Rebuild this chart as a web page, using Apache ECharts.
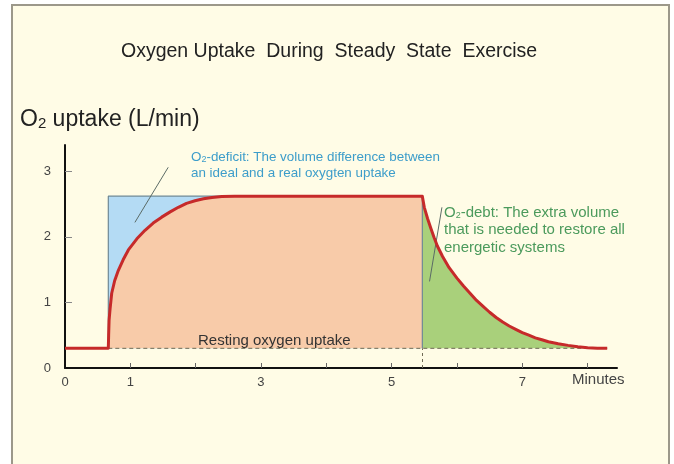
<!DOCTYPE html>
<html>
<head>
<meta charset="utf-8">
<script src="https://cdn.jsdelivr.net/npm/echarts@6/dist/echarts.min.js"></script>
<style>
  html, body { margin: 0; padding: 0; background: #ffffff; }
  #frame {
    position: absolute; left: 11px; top: 4px; width: 659px; height: 470px;
    background: #fffce6; border: 2px solid #9c988a; box-sizing: border-box;
  }
  #chart { position: absolute; left: 0; top: 0; width: 674px; height: 464px; }
</style>
</head>
<body>
<div id="frame"></div>
<div id="chart"></div>
<script>
// Resting level and the ideal (step) uptake during exercise, L/min
const restLevel = 0.3;
const steadyLevel = 2.62;
const exerciseStart = 0.663;
const exerciseEnd = 5.47;
const curveEnd = 8.3;

// Resting phase before exercise: [minutes, L/min]
const restPhase = [[0, 0.30], [0.663, 0.30]];

// Measured uptake rising at the onset of exercise
const risePhase = [
  [0.663, 0.30], [0.668, 0.50], [0.675, 0.73], [0.690, 0.90], [0.715, 1.14],
  [0.760, 1.33], [0.817, 1.49], [0.890, 1.65], [0.970, 1.80], [1.100, 1.97],
  [1.225, 2.10], [1.350, 2.21], [1.480, 2.30], [1.610, 2.38], [1.735, 2.45],
  [1.860, 2.51], [1.990, 2.55], [2.120, 2.58], [2.250, 2.60], [2.400, 2.613],
  [2.600, 2.62], [5.470, 2.62]
];

// Recovery after exercise stops
const recoveryPhase = [
  [5.47, 2.62], [5.50, 2.45], [5.55, 2.28], [5.60, 2.13], [5.65, 1.99],
  [5.70, 1.86], [5.78, 1.70], [5.88, 1.53], [6.00, 1.37], [6.10, 1.25],
  [6.20, 1.14], [6.30, 1.03], [6.40, 0.94], [6.50, 0.85], [6.60, 0.77],
  [6.70, 0.70], [6.80, 0.64], [6.90, 0.59], [7.00, 0.54], [7.10, 0.50],
  [7.20, 0.46], [7.30, 0.43], [7.40, 0.40], [7.55, 0.37], [7.70, 0.345],
  [7.85, 0.325], [8.00, 0.31], [8.15, 0.303], [8.30, 0.30]
];

// Axis ticks and labels
const xTicks = [1, 2, 3, 4, 5, 6, 7, 8];
const xLabels = [0, 1, 3, 5, 7];
const yTicks = [1, 2, 3];
const yLabels = [0, 1, 2, 3];

// Annotation pointers in data coordinates
const deficitPointer = [[1.58, 3.06], [1.07, 2.22]];
const debtPointer = [[5.77, 2.45], [5.58, 1.32]];

const idealStep = [
  [exerciseStart, restLevel], [exerciseStart, steadyLevel],
  [exerciseEnd, steadyLevel], [exerciseEnd, restLevel]
];
const fullCurve = restPhase.concat(risePhase.slice(1), recoveryPhase.slice(1));

const RED = '#c62a2a';
const FONT = '"Liberation Sans", Arial, sans-serif';

const chart = echarts.init(document.getElementById('chart'), null, { renderer: 'canvas' });

chart.setOption({
  backgroundColor: 'transparent',
  animation: false,
  textStyle: { fontFamily: FONT },
  grid: { left: 65, right: 57, top: 145, bottom: 96 },
  xAxis: {
    type: 'value', min: 0, max: 8.45,
    axisLine: { lineStyle: { color: '#111', width: 2 } },
    axisTick: { inside: true, length: 5, customValues: xTicks, lineStyle: { color: '#666' } },
    axisLabel: { customValues: xLabels, color: '#444', fontSize: 13, margin: 8, fontFamily: FONT },
    splitLine: { show: false }
  },
  yAxis: {
    type: 'value', min: 0, max: 3.4,
    axisLine: { show: true, lineStyle: { color: '#111', width: 2 } },
    axisTick: { show: true, inside: true, length: 7, customValues: yTicks, lineStyle: { color: '#888' } },
    axisLabel: { customValues: yLabels, color: '#444', fontSize: 13, margin: 14, fontFamily: FONT },
    splitLine: { show: false }
  },
  series: [
    {
      name: 'ideal uptake fill', type: 'line', data: idealStep, showSymbol: false, z: 1,
      lineStyle: { width: 0, opacity: 0 },
      areaStyle: { color: '#b4dbf4', opacity: 1, origin: restLevel }
    },
    {
      name: 'exercise fill', type: 'line', data: risePhase, showSymbol: false, z: 2,
      lineStyle: { width: 0, opacity: 0 },
      areaStyle: { color: '#f8cba9', opacity: 1, origin: restLevel }
    },
    {
      name: 'recovery fill', type: 'line', data: recoveryPhase, showSymbol: false, z: 2,
      lineStyle: { width: 0, opacity: 0 },
      areaStyle: { color: '#a9d07b', opacity: 1, origin: restLevel }
    },
    {
      name: 'ideal uptake edge', type: 'line', data: idealStep, showSymbol: false, z: 3,
      lineStyle: { color: '#6e8896', width: 1.2 }
    },
    {
      name: 'resting baseline', type: 'line', z: 3, showSymbol: false,
      data: [[exerciseStart, restLevel], [curveEnd, restLevel]],
      lineStyle: { color: '#6f6a55', width: 1, type: [4, 3] },
      markLine: {
        silent: true, symbol: 'none', label: { show: false },
        lineStyle: { color: '#6f6a55', width: 1, type: [3, 3] },
        data: [[{ coord: [exerciseEnd, 0] }, { coord: [exerciseEnd, restLevel] }]]
      }
    },
    {
      name: 'pointers', type: 'line', z: 5, data: [], showSymbol: false,
      markLine: {
        silent: true, symbol: 'none', label: { show: false },
        lineStyle: { color: '#5b6b66', width: 1, type: 'solid' },
        data: [
          [{ coord: deficitPointer[0] }, { coord: deficitPointer[1] }],
          [{ coord: debtPointer[0] }, { coord: debtPointer[1] }]
        ]
      }
    },
    {
      name: 'O2 uptake', type: 'line', data: fullCurve, showSymbol: false, z: 6,
      lineStyle: { color: RED, width: 3, join: 'round' }
    }
  ],
  graphic: [
    {
      type: 'text', left: 121, top: 42, z: 100,
      style: { text: 'Oxygen Uptake  During  Steady  State  Exercise', font: '19.5px ' + FONT, fill: '#222' }
    },
    {
      type: 'text', left: 20, top: 108, z: 100,
      style: {
        text: '{a|O}{s|2}{a| uptake (L/min)}',
        rich: {
          a: { font: '23px ' + FONT, fill: '#222', verticalAlign: 'bottom' },
          s: { font: '15px ' + FONT, fill: '#222', padding: [10, 0, 0, 0], verticalAlign: 'bottom' }
        }
      }
    },
    {
      type: 'text', left: 191, top: 150, z: 100,
      style: {
        text: '{t|O}{s|2}{t|-deficit: The volume difference between}\n{t|an ideal and a real oxygten uptake}',
        rich: {
          t: { font: '13.4px ' + FONT, fill: '#3d9dca', lineHeight: 16 },
          s: { font: '9px ' + FONT, fill: '#3d9dca', padding: [5, 0, 0, 0], lineHeight: 16 }
        }
      }
    },
    {
      type: 'text', left: 444, top: 205, z: 100,
      style: {
        text: '{t|O}{s|2}{t|-debt: The extra volume}\n{t|that is needed to restore all}\n{t|energetic systems}',
        rich: {
          t: { font: '15px ' + FONT, fill: '#4b9a5c', lineHeight: 17.5 },
          s: { font: '9px ' + FONT, fill: '#4b9a5c', padding: [6, 0, 0, 0], lineHeight: 17.5 }
        }
      }
    },
    {
      type: 'text', left: 198, top: 333, z: 100,
      style: { text: 'Resting oxygen uptake', font: '15px ' + FONT, fill: '#333' }
    },
    {
      type: 'text', left: 572, top: 372, z: 100,
      style: { text: 'Minutes', font: '15px ' + FONT, fill: '#444' }
    }
  ]
});
</script>
</body>
</html>
